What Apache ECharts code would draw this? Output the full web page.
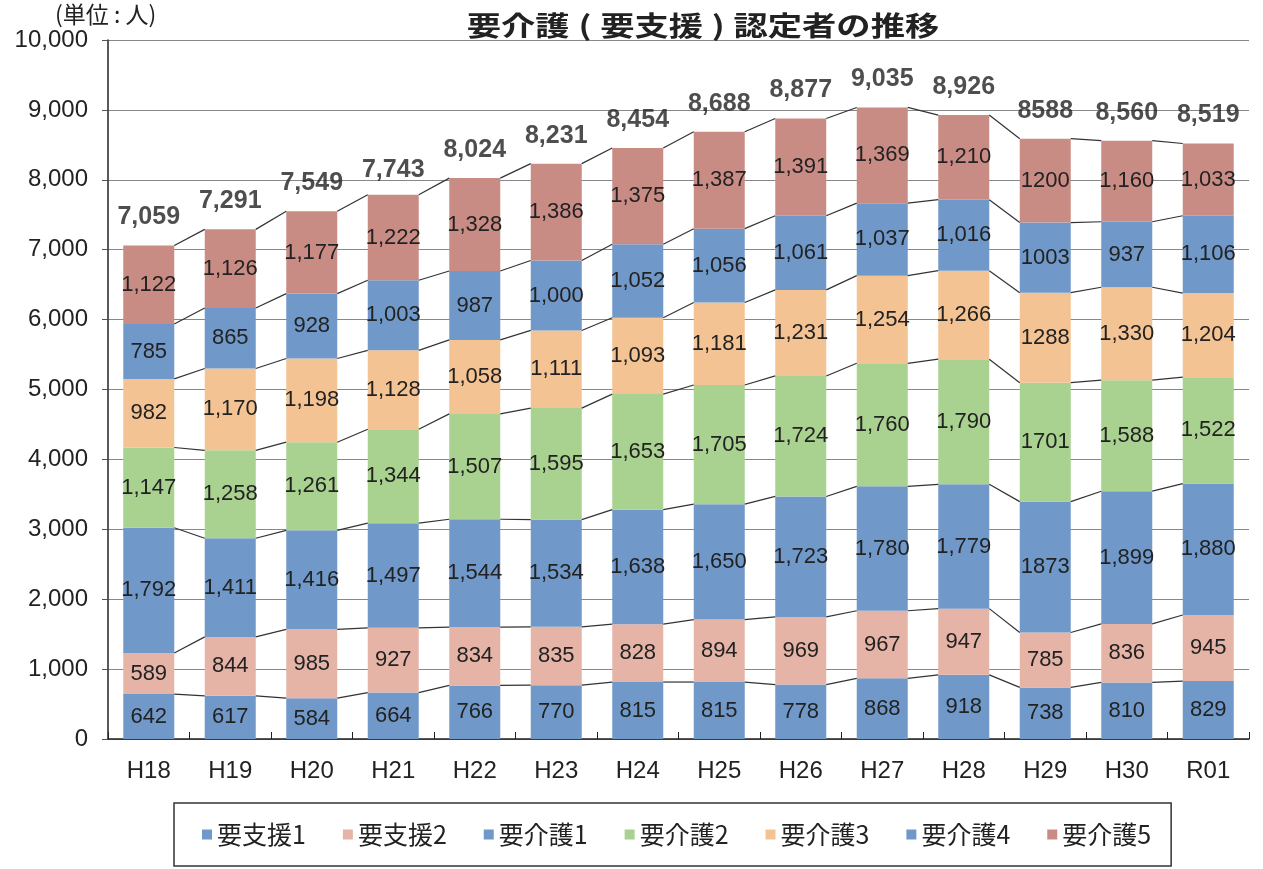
<!DOCTYPE html>
<html><head><meta charset="utf-8">
<script src="https://cdn.jsdelivr.net/npm/echarts@6/dist/echarts.min.js"></script>
<style>html,body{margin:0;padding:0;background:#fff}#c{width:1263px;height:869px}</style>
</head><body><div id="c"></div>
<script>
const categories = ['H18','H19','H20','H21','H22','H23','H24','H25','H26','H27','H28','H29','H30','R01'];
const seriesNames = ['要支援1','要支援2','要介護1','要介護2','要介護3','要介護4','要介護5'];
const shien1 = [642,617,584,664,766,770,815,815,778,868,918,738,810,829];
const shien2 = [589,844,985,927,834,835,828,894,969,967,947,785,836,945];
const kaigo1 = [1792,1411,1416,1497,1544,1534,1638,1650,1723,1780,1779,1873,1899,1880];
const kaigo2 = [1147,1258,1261,1344,1507,1595,1653,1705,1724,1760,1790,1701,1588,1522];
const kaigo3 = [982,1170,1198,1128,1058,1111,1093,1181,1231,1254,1266,1288,1330,1204];
const kaigo4 = [785,865,928,1003,987,1000,1052,1056,1061,1037,1016,1003,937,1106];
const kaigo5 = [1122,1126,1177,1222,1328,1386,1375,1387,1391,1369,1210,1200,1160,1033];
const totals = [7059,7291,7549,7743,8024,8231,8454,8688,8877,9035,8926,8588,8560,8519];
const noCommaCategories = ['H29'];
const yTicks = [0,1000,2000,3000,4000,5000,6000,7000,8000,9000,10000];

const colors = ['#7099c9','#e5b4a7','#7099c9','#a9d18f','#f4c393','#7099c9','#c98c84'];
const allSeries = [shien1,shien2,kaigo1,kaigo2,kaigo3,kaigo4,kaigo5];
const BAR_W = 51;

function fmt(v, idx){
  if (noCommaCategories.indexOf(categories[idx]) >= 0) return String(v);
  return v.toLocaleString('en-US');
}

const cum = categories.map((c,i)=>{
  let s=0; const arr=[];
  allSeries.forEach(d=>{ s+=d[i]; arr.push(s); });
  return arr;
});

const numFont = '"Liberation Sans",Arial,"Noto Sans CJK JP",sans-serif';
const jpFont = '"Noto Sans CJK JP",sans-serif';

const chart = echarts.init(document.getElementById('c'));
const series = allSeries.map((d,k)=>({
  name: seriesNames[k], type:'bar', stack:'total', data:d, barWidth:BAR_W,
  itemStyle:{color:colors[k]},
  label:{show:true, position:'inside', color:'#222', fontSize:22, fontFamily:numFont,
    formatter:p=>fmt(p.value,p.dataIndex)},
  z:2
}));
series.push({
  type:'custom', name:'connectors', z:3, silent:true,
  data: categories.slice(0,-1).map((c,i)=>[i]),
  renderItem:(params, api)=>{
    const i = api.value(0);
    const children = [];
    for (let k=0;k<seriesNames.length;k++){
      const p1 = api.coord([i, cum[i][k]]);
      const p2 = api.coord([i+1, cum[i+1][k]]);
      children.push({type:'line', shape:{x1:p1[0]+BAR_W/2, y1:p1[1], x2:p2[0]-BAR_W/2, y2:p2[1]},
        style:{stroke:'#333', lineWidth:1.2}});
    }
    return {type:'group', children};
  },
  encode:{x:0}
});
series.push({
  type:'scatter', name:'total', data:totals, symbol:'circle', symbolSize:1, silent:true,
  itemStyle:{color:'rgba(0,0,0,0)'},
  label:{show:true, position:'top', distance:15, fontSize:25, fontWeight:'bold', color:'#222', fontFamily:numFont,
    formatter:p=>fmt(p.value,p.dataIndex)},
  z:4
});

const titleStyle = {fontSize:27, fontWeight:'bold', fill:'#222', fontFamily:jpFont};
chart.setOption({
  animation:false,
  backgroundColor:'#fff',
  graphic:[
    {type:'text', x:703, y:26, scaleX:1.27, z:10,
      style:Object.assign({text:'要介護{p|(}要支援{p|)}認定者の推移', textAlign:'center', textVerticalAlign:'middle',
        rich:{p:{width:24, align:'center', fontSize:27, fontWeight:'bold', fontFamily:jpFont, color:'#222'}}}, titleStyle)},
    {type:'text', x:55, y:14, z:10,
      style:{text:'(単位 : 人)', textAlign:'left', textVerticalAlign:'middle', fontSize:23, fill:'#222', fontFamily:jpFont}}
  ],
  legend:{data:seriesNames, left:174, top:803, orient:'horizontal', icon:'rect', itemWidth:10, itemHeight:10,
    itemGap:37, padding:[19,20,19,28], borderColor:'#333', borderWidth:1.5,
    textStyle:{fontSize:25, color:'#222', fontFamily:jpFont}},
  grid:{left:108, right:14, top:40, bottom:130, containLabel:false},
  xAxis:{type:'category', data:categories,
    axisLine:{lineStyle:{color:'#222', width:1.5}},
    axisTick:{show:true, inside:true, length:7, lineStyle:{color:'#222'}},
    axisLabel:{fontSize:24, color:'#222', margin:20, fontFamily:numFont}},
  yAxis:{type:'value', min:yTicks[0], max:yTicks[yTicks.length-1], interval:1000,
    axisLine:{show:true, lineStyle:{color:'#222', width:1.5}},
    axisTick:{show:true, inside:false, length:6, lineStyle:{color:'#555'}},
    splitLine:{lineStyle:{color:'#888', width:1.2}},
    axisLabel:{fontSize:24, color:'#222', margin:20, fontFamily:numFont,
      formatter:v=>v.toLocaleString('en-US')}},
  series
});
</script></body></html>
